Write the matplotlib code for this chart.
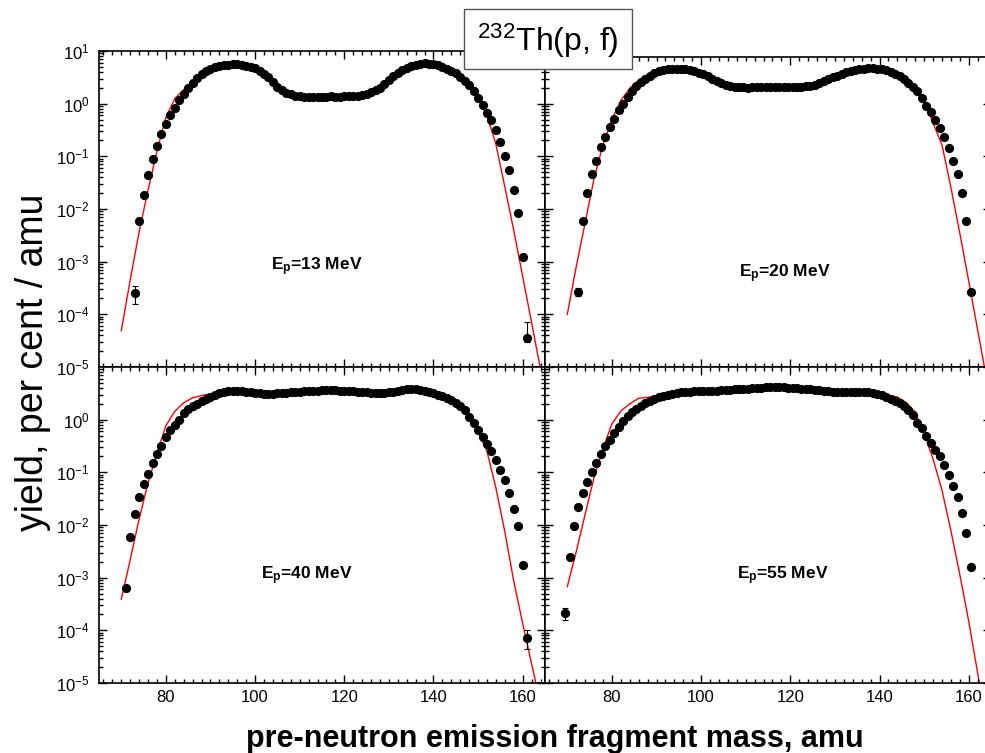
import numpy as np
import matplotlib
matplotlib.use('Agg')
import matplotlib.pyplot as plt
from matplotlib.ticker import MultipleLocator, LogLocator, NullFormatter, FuncFormatter
from matplotlib.patches import Rectangle

plt.rcParams['font.family'] = ['Liberation Sans', 'DejaVu Sans']
plt.rcParams['mathtext.fontset'] = 'custom'
plt.rcParams['mathtext.rm'] = 'Liberation Sans'
plt.rcParams['mathtext.it'] = 'Liberation Sans:italic'
plt.rcParams['mathtext.bf'] = 'Liberation Sans:bold'

# measured yields (per cent / amu), one point per mass number
mass13 = np.arange(73, 162)
yield13 = [2.5e-4, 6.0e-3, 1.85e-2, 4.4e-2, 8.8e-2, 0.16, 0.27, 0.41, 0.61, 0.84,
           1.17, 1.5, 1.95, 2.5, 3.1, 3.7, 4.2, 4.6, 4.9, 5.2,
           5.4, 5.5, 5.6, 5.6, 5.5, 5.3, 5.0, 4.7, 4.2, 3.7,
           3.2, 2.6, 2.1, 1.8, 1.6, 1.5, 1.42, 1.38, 1.36, 1.35,
           1.34, 1.35, 1.36, 1.36, 1.37, 1.36, 1.36, 1.37, 1.38, 1.38,
           1.40, 1.45, 1.55, 1.65, 1.8, 2.0, 2.4, 2.8, 3.3, 3.8,
           4.3, 4.8, 5.2, 5.4, 5.65, 5.8, 5.75, 5.6, 5.35, 5.0,
           4.6, 4.25, 3.8, 3.25, 2.75, 2.3, 1.75, 1.3, 0.93, 0.66,
           0.48, 0.31, 0.19, 0.10, 0.055, 0.023, 8.3e-3, 1.2e-3, 3.6e-5]

mass20 = np.arange(72.5, 161.0)
yield20 = [2.6e-4, 5.9e-3, 0.020, 0.047, 0.083, 0.148, 0.23, 0.36, 0.52, 0.75,
           1.0, 1.33, 1.74, 2.2, 2.6, 3.0, 3.4, 3.8, 4.1, 4.3,
           4.5, 4.6, 4.65, 4.65, 4.55, 4.4, 4.2, 3.9, 3.6, 3.3,
           3.0, 2.7, 2.45, 2.25, 2.15, 2.08, 2.05, 2.03, 2.02, 2.04,
           2.05, 2.06, 2.05, 2.04, 2.05, 2.06, 2.07, 2.06, 2.05, 2.06,
           2.08, 2.12, 2.2, 2.3, 2.45, 2.65, 2.9, 3.15, 3.4, 3.7,
           4.0, 4.2, 4.4, 4.55, 4.65, 4.7, 4.7, 4.65, 4.5, 4.3,
           4.0, 3.7, 3.3, 2.9, 2.5, 2.1, 1.74, 1.3, 0.89, 0.71,
           0.50, 0.35, 0.23, 0.146, 0.083, 0.047, 0.020, 5.9e-3, 2.7e-4]

mass40 = np.arange(71, 162)
yield40 = [6.5e-4, 6.0e-3, 0.0164, 0.034, 0.059, 0.095, 0.15, 0.22, 0.32, 0.46,
           0.63, 0.80, 1.0, 1.32, 1.57, 1.8, 2.0, 2.3, 2.5, 2.75,
           3.0, 3.2, 3.35, 3.45, 3.5, 3.5, 3.45, 3.4, 3.3, 3.2,
           3.15, 3.1, 3.1, 3.1, 3.15, 3.2, 3.25, 3.3, 3.35, 3.4,
           3.5, 3.5, 3.55, 3.55, 3.6, 3.6, 3.6, 3.6, 3.55, 3.55,
           3.5, 3.45, 3.4, 3.35, 3.3, 3.25, 3.2, 3.2, 3.25, 3.3,
           3.4, 3.55, 3.7, 3.8, 3.85, 3.8, 3.7, 3.55, 3.4, 3.2,
           3.0, 2.85, 2.6, 2.35, 2.1, 1.8, 1.5, 1.1, 0.85, 0.63,
           0.47, 0.34, 0.25, 0.17, 0.11, 0.071, 0.041, 0.020, 9.4e-3, 1.75e-3, 7.1e-5]

mass55 = np.arange(69.5, 161.0)
yield55 = [2.1e-4, 2.5e-3, 9.4e-3, 0.022, 0.040, 0.065, 0.10, 0.148, 0.22, 0.31,
           0.42, 0.56, 0.74, 0.94, 1.17, 1.42, 1.6, 1.8, 2.05, 2.3,
           2.5, 2.7, 2.85, 3.0, 3.1, 3.2, 3.3, 3.35, 3.4, 3.45,
           3.45, 3.45, 3.5, 3.5, 3.55, 3.6, 3.65, 3.7, 3.75, 3.8,
           3.85, 3.9, 3.95, 4.0, 4.05, 4.1, 4.1, 4.15, 4.1, 4.1,
           4.05, 4.0, 3.95, 3.9, 3.85, 3.8, 3.7, 3.6, 3.5, 3.45,
           3.4, 3.4, 3.4, 3.4, 3.4, 3.4, 3.4, 3.35, 3.3, 3.2,
           3.05, 2.9, 2.7, 2.5, 2.3, 2.05, 1.8, 1.55, 1.2, 0.88,
           0.68, 0.50, 0.36, 0.27, 0.20, 0.135, 0.089, 0.056, 0.034, 0.017, 7.0e-3, 1.56e-3]

# error bars on the weakest points (lower / upper limits)
err13_mass = [73, 161]
err13_lo = [1.6e-4, 3.0e-5]
err13_hi = [3.5e-4, 7.2e-5]
err20_mass = [72.5]
err20_lo = [2.2e-4]
err20_hi = [3.1e-4]
err40_mass = [71, 161]
err40_lo = [5.7e-4, 4.4e-5]
err40_hi = [7.3e-4, 1.0e-4]
err55_mass = [69.5]
err55_lo = [1.6e-4]
err55_hi = [2.6e-4]

# model calculation
th13_mass = [70, 72, 74, 76, 78, 80, 82, 84, 86, 88, 92, 96, 100, 104, 108, 112, 116,
             120, 124, 128, 132, 136, 140, 144, 148, 150, 152, 154, 156, 158, 160, 162, 164]
th13 = [4.9e-5, 4.5e-4, 3.7e-3, 0.023, 0.126, 0.55, 1.25, 1.85, 2.5, 3.6, 5.0, 5.5, 4.7,
        2.5, 1.5, 1.33, 1.33, 1.35, 1.45, 2.0, 3.8, 5.4, 5.5, 4.2, 2.2, 1.25, 0.59, 0.17,
        0.026, 3.9e-3, 5.2e-4, 6.9e-5, 9e-6]

th20_mass = [70, 72, 74, 76, 78, 80, 82, 84, 86, 90, 94, 98, 102, 106, 110, 116, 122,
             126, 130, 134, 138, 142, 146, 149, 151, 152, 154, 156, 158, 160, 162, 164]
th20 = [1.0e-4, 8e-4, 5.5e-3, 0.038, 0.166, 0.5, 1.15, 1.95, 2.8, 4.1, 4.6, 4.3, 3.1,
        2.2, 2.02, 2.02, 2.05, 2.4, 3.3, 4.3, 4.7, 4.15, 2.8, 1.4, 0.72, 0.43, 0.166,
        0.026, 3.5e-3, 4.3e-4, 5.1e-5, 6e-6]

th40_mass = [70, 72, 74, 76, 78, 80, 82, 84, 86, 89, 92, 96, 100, 104, 110, 116, 122,
             128, 134, 138, 142, 144, 146, 148, 150, 152, 154, 156, 158, 160, 162, 164]
th40 = [3.9e-4, 2.2e-3, 0.013, 0.063, 0.23, 0.77, 1.44, 2.1, 2.6, 3.0, 3.1, 3.2, 3.1,
        3.0, 3.3, 3.5, 3.4, 3.1, 3.6, 3.4, 3.0, 2.6, 2.0, 1.3, 0.59, 0.25, 0.05, 7.4e-3,
        8.5e-4, 1.35e-4, 2.3e-5, 4e-6]

th55_mass = [70, 72, 74, 76, 78, 80, 82, 84, 86, 88, 91, 95, 100, 105, 110, 115, 120,
             125, 130, 135, 140, 144, 146, 148, 150, 152, 154, 156, 158, 160, 162, 164]
th55 = [6.8e-4, 3.1e-3, 0.016, 0.08, 0.28, 0.83, 1.46, 2.0, 2.55, 2.65, 2.9, 3.3, 3.45,
        3.65, 3.9, 4.1, 4.0, 3.6, 3.2, 3.3, 3.0, 2.7, 2.1, 1.4, 0.55, 0.18, 0.046, 7.9e-3,
        1.15e-3, 1.5e-4, 1.55e-5, 1.6e-6]

energies = ['13', '20', '40', '55']
label_pos = [(113.8, 8.0e-4), (118.8, 6.0e-4), (111.5, 1.1e-3), (118.4, 1.1e-3)]

W, H = 985.0, 753.0
# axes boxes in pixels: left, top, right, bottom
boxes = [(99, 51, 545, 367), (545, 57, 991, 367), (99, 367, 545, 683), (545, 367, 991, 683)]
ytops = [10.0, 7.7, 10.0, 10.0]

data = [(mass13, yield13, err13_mass, err13_lo, err13_hi, th13_mass, th13),
        (mass20, yield20, err20_mass, err20_lo, err20_hi, th20_mass, th20),
        (mass40, yield40, err40_mass, err40_lo, err40_hi, th40_mass, th40),
        (mass55, yield55, err55_mass, err55_lo, err55_hi, th55_mass, th55)]


def decade(v, pos):
    e = int(round(np.log10(v)))
    return r'$\mathdefault{10^{%d}}$' % e


fig = plt.figure(figsize=(9.85, 7.53), dpi=100)

for i in range(4):
    l, t, r, b = boxes[i]
    ax = fig.add_axes([l / W, 1 - b / H, (r - l) / W, (b - t) / H])
    m, y, em, elo, ehi, tm, ty = data[i]

    ax.plot(tm, ty, color='red', lw=1.0, zorder=1)
    ax.plot(m, y, 'o', color='black', ms=5.6, zorder=2)
    ey = [y[list(m).index(v)] for v in em]
    ax.errorbar(em, ey, yerr=[np.array(ey) - np.array(elo), np.array(ehi) - np.array(ey)],
                fmt='none', ecolor='black', elinewidth=0.8, capsize=2.5, capthick=0.8, zorder=2)

    ax.set_yscale('log')
    ax.set_xlim(65, 165)
    ax.set_ylim(1e-5, ytops[i])

    ax.xaxis.set_major_locator(MultipleLocator(20))
    ax.xaxis.set_minor_locator(MultipleLocator(2))
    if i == 2:
        # lower panel: its top decade label would sit on the one above
        ax.set_yticks([1e-5, 1e-4, 1e-3, 1e-2, 1e-1, 1e0])
    else:
        ax.yaxis.set_major_locator(LogLocator(base=10, numticks=20))
    ax.yaxis.set_minor_locator(LogLocator(base=10, subs=np.arange(2, 10), numticks=20))
    ax.yaxis.set_minor_formatter(NullFormatter())
    ax.yaxis.set_major_formatter(FuncFormatter(decade))

    ax.tick_params(which='both', direction='in', top=True, right=True, width=1.0)
    ax.tick_params(which='major', length=5.5, labelsize=12)
    ax.tick_params(which='minor', length=2.8)
    ax.tick_params(axis='y', pad=7)
    ax.tick_params(axis='x', pad=5)
    for s in ax.spines.values():
        s.set_linewidth(1.2)

    if i < 2:
        ax.tick_params(labelbottom=False)
    if i % 2 == 1:
        ax.tick_params(labelleft=False)

    lx, ly = label_pos[i]
    ax.text(lx, ly, r'E$_{\mathbf{p}}$=' + energies[i] + ' MeV', fontsize=12.5,
            fontweight='bold', ha='center', va='center')

# reaction label in a box over the top panels
fig.add_artist(Rectangle((464 / W, 1 - 69 / H), 168 / W, 60 / H, transform=fig.transFigure,
                         facecolor='white', edgecolor='#555555', lw=1.0, zorder=5))
fig.text(548 / W, 1 - 41 / H, r'$^{232}$Th(p, f)', fontsize=23, ha='center', va='center', zorder=6)

fig.text(33 / W, 1 - 362 / H, 'yield, per cent / amu', rotation=90, fontsize=27,
         ha='center', va='center')
fig.text(555 / W, 1 - 739 / H, 'pre-neutron emission fragment mass, amu', fontsize=22,
         fontweight='bold', ha='center', va='center')

fig.savefig('out.png', dpi=100)
